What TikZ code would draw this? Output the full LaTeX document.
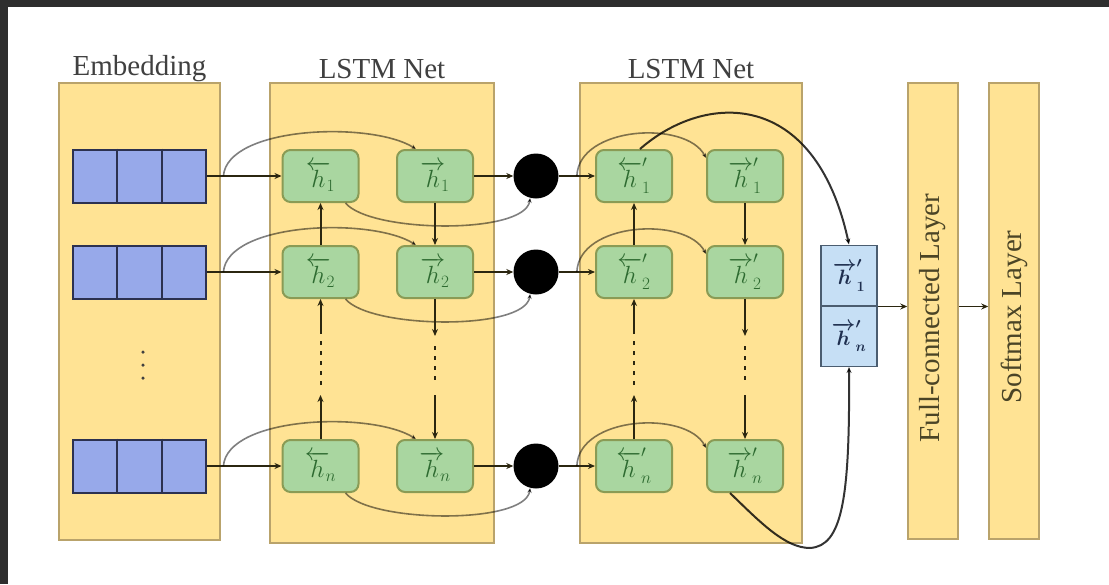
\documentclass[tikz,border=0pt]{standalone}
\usepackage{amsmath}
\usepackage{fontspec}
\setmainfont{Liberation Serif}
\usetikzlibrary{arrows.meta,calc}
\definecolor{frame}{HTML}{2E2E2E}
\definecolor{panel}{HTML}{FFE394}
\definecolor{panelborder}{HTML}{B9A36B}
\definecolor{gfill}{HTML}{A9D6A0}
\definecolor{gborder}{HTML}{8A9B55}
\definecolor{gtext}{HTML}{2D6A30}
\definecolor{cellfill}{HTML}{97A9EA}
\definecolor{cellborder}{HTML}{2C3150}
\definecolor{bfill}{HTML}{C6DFF5}
\definecolor{bborder}{HTML}{4B5D70}
\definecolor{btext}{HTML}{1F2F4F}
\definecolor{conncol}{HTML}{2B2610}
\definecolor{titlecol}{HTML}{404040}
\definecolor{layertext}{HTML}{4A4426}
\begin{document}
\begin{tikzpicture}[x=1pt,y=-1pt,
  panelbox/.style={draw=panelborder, fill=panel, line width=1.5pt, inner sep=0pt},
  title/.style={text=titlecol, font=\fontsize{29}{32}\selectfont, inner sep=0pt},
  layerlabel/.style={text=layertext, font=\fontsize{29}{32}\selectfont, inner sep=0pt, rotate=90},
  gnode/.style={draw=gborder, fill=gfill, line width=2pt, rounded corners=8pt,
    minimum width=76pt, minimum height=52pt, inner sep=0pt, text=gtext,
    font=\fontsize{23}{25}\selectfont},
  embblock/.style={draw=cellborder, fill=cellfill, line width=2pt,
    minimum width=133pt, minimum height=53pt, inner sep=0pt},
  dotnode/.style={circle, fill=black, minimum size=45pt, inner sep=0pt},
  smalldot/.style={circle, fill=titlecol, minimum size=3.5pt, inner sep=0pt},
  bcell/.style={draw=bborder, fill=bfill, line width=1.5pt, minimum width=56pt,
    minimum height=60.5pt, inner sep=0pt, text=btext, font=\fontsize{20}{22}\selectfont},
  conn/.style={draw=conncol, line width=2pt, -{Stealth[length=7pt,width=6pt]}},
  dotline/.style={draw=conncol, line width=2pt, dash pattern=on 4pt off 6pt},
  curve/.style={draw=black, draw opacity=0.5, line width=1.6pt, -{Stealth[length=5pt,width=4.5pt]}},
  bigcurve/.style={draw=black, draw opacity=0.8, line width=2pt, -{Stealth[length=6pt,width=5pt]}}
]
% background and frame
\fill[white] (0,0) rectangle (1109,584);
\useasboundingbox (0,0) rectangle (1109,584);
\fill[frame] (0,0) rectangle (1109,7);
\fill[frame] (0,0) rectangle (8,584);

% panels
\node[panelbox, minimum width=161pt, minimum height=457pt] (pemb) at (139.5,311.5) {};
\node[panelbox, minimum width=224pt, minimum height=460pt] (plstm1) at (382,313) {};
\node[panelbox, minimum width=222pt, minimum height=460pt] (plstm2) at (691,313) {};
\node[panelbox, minimum width=50pt, minimum height=456pt] (fc) at (933,311) {};
\node[panelbox, minimum width=50pt, minimum height=456pt] (sm) at (1014,311) {};

% titles
\node[title] (temb) at (139.5,69) {Embedding};
\node[title] (tl1) at (382,69) {LSTM Net};
\node[title] (tl2) at (691,69) {LSTM Net};
\node[layerlabel] (tfc) at (933,318) {Full-connected Layer};
\node[layerlabel] (tsm) at (1014,317) {Softmax Layer};

% embedding vertical ellipsis
\node[smalldot] (ed1) at (143,352) {};
\node[smalldot] (ed2) at (143,365) {};
\node[smalldot] (ed3) at (143,378) {};

% rows
\foreach \r/\y in {1/176, 2/272, n/466} {
  \node[embblock] (e\r) at (139.5,\y) {};
  \draw[cellborder, line width=2pt] ($(e\r.north west)!1/3!(e\r.north east)$) -- ($(e\r.south west)!1/3!(e\r.south east)$);
  \draw[cellborder, line width=2pt] ($(e\r.north west)!2/3!(e\r.north east)$) -- ($(e\r.south west)!2/3!(e\r.south east)$);
  \node[gnode] (ha\r) at (320.5,\y) {$\overleftarrow{h}\!_{\r}$};
  \node[gnode] (hb\r) at (435,\y) {$\overrightarrow{h}\!_{\r}$};
  \node[dotnode] (c\r) at (536,\y) {};
  \node[gnode] (hc\r) at (634,\y) {${\overleftarrow{h}}'_{\r}$};
  \node[gnode] (hd\r) at (745,\y) {${\overrightarrow{h}}'_{\r}$};
  \coordinate (s\r) at ($(e\r.east)!0.22!(ha\r.west)$);
  \coordinate (t\r) at ($(c\r.east)!0.5!(hc\r.west)$);
  % straight connectors
  \draw[conn] (e\r.east) -- (ha\r.west);
  \draw[conn] (hb\r.east) -- (c\r.west);
  \draw[conn] (c\r.east) -- (hc\r.west);
  % skip curves
  \draw[curve] (s\r) .. controls +(4,-50) and +(-45,-28) .. ($(hb\r.north west)+(20,0)$);
  \draw[curve] ($(ha\r.south east)+(-14,0)$) .. controls +(25,30) and +(-5,37) .. (c\r.-105);
  \draw[curve] (t\r) .. controls +(2,-50) and +(-20,-38) .. ($(hd\r.north west)+(0,9)$);
}

% vertical connections row1-row2
\draw[conn] (ha2.north) -- (ha1.south);
\draw[conn] (hb1.south) -- (hb2.north);
\draw[conn] (hc2.north) -- (hc1.south);
\draw[conn] (hd1.south) -- (hd2.north);

% vertical connections row2 - row n, upward columns
\foreach \col in {a,c} {
  \draw[conn] (h\col n.north) -- ++(0,-44);
  \draw[dotline] ($(h\col n.north)+(0,-54)$) -- ($(h\col 2.south)+(0,42)$);
  \draw[conn] ($(h\col 2.south)+(0,35)$) -- (h\col 2.south);
}
% downward columns
\foreach \col in {b,d} {
  \draw[conn] (h\col 2.south) -- ++(0,37);
  \draw[dotline] ($(h\col 2.south)+(0,47)$) -- ($(h\col n.north)+(0,-54)$);
  \draw[conn] ($(h\col n.north)+(0,-44)$) -- (h\col n.north);
}

% blue output box
\node[bcell] (b1) at (849,275.5) {$\boldsymbol{{\overrightarrow{h}}'_{1}}$};
\node[bcell] (bn) at (849,336) {$\boldsymbol{{\overrightarrow{h}}'_{n}}$};

% curves into output box
\draw[bigcurve] ($(hc1.north)+(6,0)$) .. controls (705,92) and (815,88) .. (b1.north);
\coordinate (bend) at (810,548);
\draw[bigcurve] ($(hdn.south)+(-15,0)$) .. controls (760,522) and (785,548) .. (bend)
   .. controls (842,546) and (850,500) .. (bn.south);

% output arrows
\draw[conn, line width=1.6pt] (b1.south east) -- (b1.south east -| fc.west);
\draw[conn, line width=1.6pt] (b1.south east -| fc.east) -- (b1.south east -| sm.west);
\end{tikzpicture}
\end{document}
